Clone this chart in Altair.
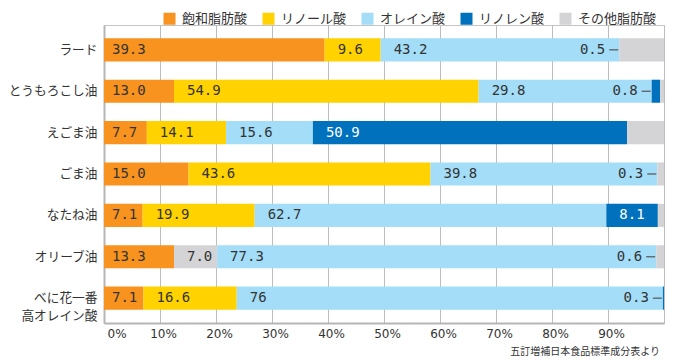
import altair as alt
import pandas as pd

# ---- data (percent of total fatty acids) ----
oils = ["ラード", "とうもろこし油", "えごま油", "ごま油", "なたね油", "オリーブ油", "べに花一番|高オレイン酸"]
series = ["飽和脂肪酸", "リノール酸", "オレイン酸", "リノレン酸", "その他脂肪酸"]
colors = ["#F7931E", "#FFD200", "#A3DDF7", "#0071BC", "#D4D4D6"]

# bar lengths as drawn in the picture
saturated = [39.4, 12.5, 7.65, 15.1, 6.9, 12.5, 7.05]
linoleic = [10.0, 54.4, 14.15, 43.2, 20.0, 7.7, 16.65]
oleic = [42.6, 30.9, 15.5, 40.5, 62.8, 78.4, 76.1]
linolenic = [0.0, 1.5, 56.1, 0.0, 9.2, 0.0, 0.2]
other = [8.0, 0.7, 6.6, 1.2, 1.1, 1.4, 0.0]

# printed labels
saturated_lbl = ["39.3", "13.0", "7.7", "15.0", "7.1", "13.3", "7.1"]
linoleic_lbl = ["9.6", "54.9", "14.1", "43.6", "19.9", "7.0", "16.6"]
oleic_lbl = ["43.2", "29.8", "15.6", "39.8", "62.7", "77.3", "76"]
linolenic_lbl = ["0.5", "0.8", "50.9", "0.3", "8.1", "0.6", "0.3"]
other_lbl = ["", "", "", "", "", "", ""]

# in the reference the olive oil linoleic segment is shown in grey
linoleic_color = ["リノール酸"] * 5 + ["その他脂肪酸"] + ["リノール酸"]

x_ticks = [0, 10, 20, 30, 40, 50, 60, 70, 80, 90, 100]
source = "五訂増補日本食品標準成分表より"

vals = [saturated, linoleic, oleic, linolenic, other]
lbls = [saturated_lbl, linoleic_lbl, oleic_lbl, linolenic_lbl, other_lbl]

rows = []
for i, oil in enumerate(oils):
    start = 0.0
    for k, s in enumerate(series):
        v = vals[k][i]
        lab = lbls[k][i]
        cat = linoleic_color[i] if s == "リノール酸" else s
        small = lab != "" and float(lab) < 1
        rows.append(dict(oil=oil, series=s, cat=cat, start=start, end=start + v,
                         label=lab, first=(k == 0), small=small,
                         white=(s == "リノレン酸")))
        start += v
df = pd.DataFrame(rows)

JP = "Noto Sans CJK JP"
NUM = "DejaVu Sans Mono"

y = alt.Y("oil:N", sort=oils, title=None,
          scale=alt.Scale(paddingInner=0.443, paddingOuter=0.322),
          axis=alt.Axis(ticks=False, domain=True, domainColor="#b5b5b5", domainWidth=2,
                        labelFont=JP, labelFontSize=12.7, labelColor="#333333",
                        labelPadding=7, labelLineHeight=18,
                        labelExpr="split(datum.label, '|')"))

x = alt.X("start:Q", title=None,
          scale=alt.Scale(domain=[0, 100], nice=False),
          axis=alt.Axis(values=x_ticks, ticks=False, grid=True, gridColor="#bdbdbd",
                        gridWidth=1, domainColor="#b5b5b5", domainWidth=2,
                        labelFont="DejaVu Sans", labelFontSize=12, labelColor="#333333",
                        labelPadding=5, labelFlush=True, labelOffset=3,
                        labelExpr="datum.value == 100 ? '' : datum.value + '%'"))

base = alt.Chart(df)

bars = base.mark_bar(strokeWidth=0).encode(
    y=y, x=x, x2="end:Q",
    color=alt.Color("cat:N", scale=alt.Scale(domain=series, range=colors),
                    legend=alt.Legend(title=None, orient="none", direction="horizontal",
                                      legendX=59, legendY=-13, symbolType="square",
                                      symbolSize=144, symbolStrokeWidth=0,
                                      labelFont=JP, labelFontSize=13, labelColor="#333333",
                                      labelOffset=6, columnPadding=14, padding=0)),
)

txt_color = alt.condition("datum.white", alt.value("white"), alt.value("#333333"))

lab_first = base.transform_filter("datum.first && datum.label != ''").mark_text(
    align="left", baseline="middle", dx=8, font=NUM, fontSize=14
).encode(y=y, x="start:Q", text="label:N", color=txt_color)

lab_rest = base.transform_filter("!datum.first && !datum.small && datum.label != ''").mark_text(
    align="left", baseline="middle", dx=13, font=NUM, fontSize=14
).encode(y=y, x="start:Q", text="label:N", color=txt_color)

lab_small = base.transform_filter("datum.small").mark_text(
    align="right", baseline="middle", dx=-14, font=NUM, fontSize=14, color="#333333"
).encode(y=y, x="start:Q", text="label:N")

dash = base.transform_filter("datum.small").mark_rule(
    xOffset=-10, x2Offset=-1, color="#555555", strokeWidth=1.2
).encode(y=y, x="start:Q", x2="start:Q")

chart = alt.layer(bars, lab_first, lab_rest, lab_small, dash).properties(
    width=560, height=298,
    autosize=alt.AutoSizeParams(type="none"),
    padding={"left": 96, "top": 17, "right": 1, "bottom": 36},
    title=alt.TitleParams(source, orient="bottom", anchor="end", font=JP, fontSize=10,
                          fontWeight="normal", color="#333333", offset=8, dx=-4),
).configure_view(stroke="#c4c4c4", strokeWidth=1)

chart.save("out.html", embed_options={"renderer": "svg", "actions": False})
